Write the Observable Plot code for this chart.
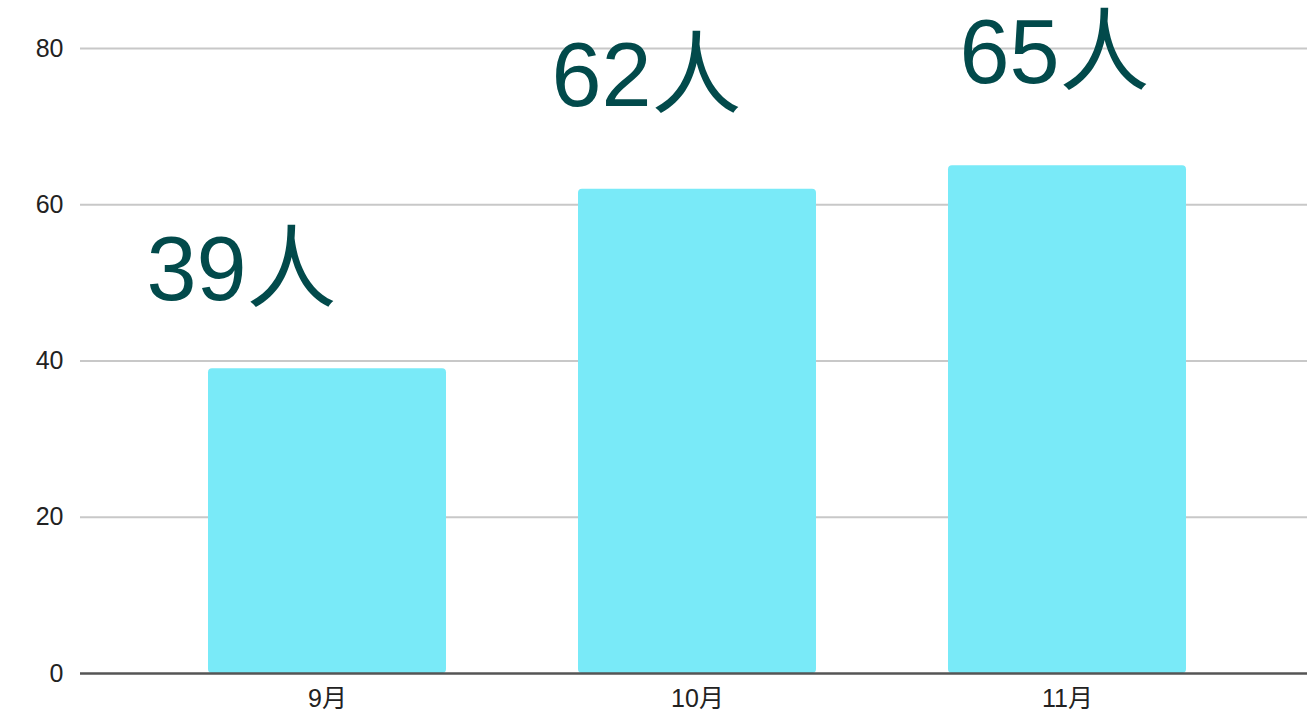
<!DOCTYPE html>
<html>
<head>
<meta charset="utf-8">
<script src="https://cdn.jsdelivr.net/npm/d3@7"></script>
<script src="https://cdn.jsdelivr.net/npm/@observablehq/plot@0.6"></script>
<style>
  html, body { margin: 0; padding: 0; background: #fff; }
  #chart svg { display: block; }
</style>
</head>
<body>
<div id="chart"></div>
<script>
// Monthly head count
const months = ["9月", "10月", "11月"];
const counts = [39, 62, 65];
const unit = "人";
const yTicks = [0, 20, 40, 60, 80];

const rows = months.map((m, i) => ({month: m, count: counts[i], label: counts[i] + unit}));

// hand-placed callouts above each bar
const nudges = [[-86, -69], [-51, -83], [-13, -83]];
const labelMarks = rows.map((r, i) =>
  Plot.text([r], {
    x: "month", y: "count", text: "label",
    dx: nudges[i][0], dy: nudges[i][1],
    textAnchor: "middle", lineAnchor: "bottom",
    fontSize: 90, fill: "#024a4b",
    fontFamily: "'Liberation Sans', 'Noto Sans CJK SC', sans-serif"
  })
);

const chart = Plot.plot({
  width: 1307,
  height: 718,
  marginTop: 48,
  marginBottom: 45,
  marginLeft: 80,
  marginRight: 0,
  style: {fontFamily: "'Liberation Sans', 'Noto Sans CJK SC', sans-serif", fontSize: "25px", color: "#222", background: "#fff"},
  x: {domain: months, paddingInner: 0.356, paddingOuter: 0.332, align: 0.515, label: null},
  y: {domain: [0, 80], label: null},
  marks: [
    Plot.gridY(yTicks.filter(t => t > 0), {stroke: "#c8c8c8", strokeOpacity: 1, strokeWidth: 2}),
    Plot.barY(rows, {x: "month", y: "count", fill: "#79eaf8", rx: 4}),
    Plot.ruleY([0], {stroke: "#555", strokeWidth: 2.5}),
    Plot.axisY({ticks: yTicks, tickSize: 0, tickPadding: 17, label: null}),
    Plot.axisX({tickSize: 0, tickPadding: 16, label: null}),
    ...labelMarks
  ]
});
document.getElementById("chart").append(chart);
</script>
</body>
</html>
